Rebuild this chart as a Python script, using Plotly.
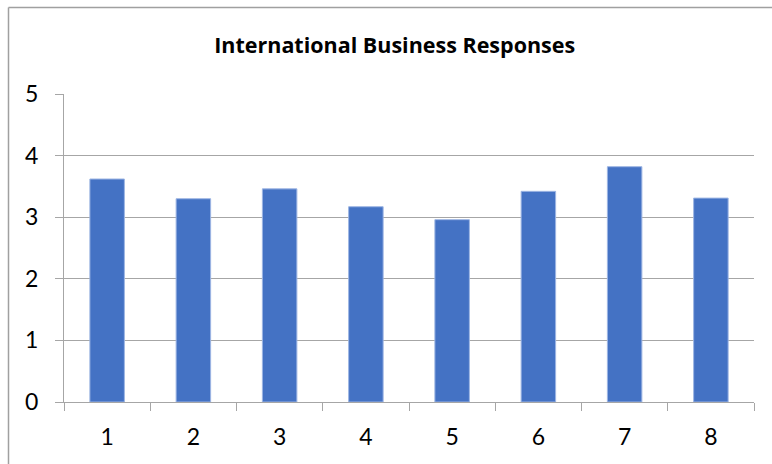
import plotly.graph_objects as go

# Survey response averages per question
categories = ["1", "2", "3", "4", "5", "6", "7", "8"]
responses = [3.62, 3.30, 3.46, 3.17, 2.96, 3.42, 3.82, 3.31]
y_ticks = [0, 1, 2, 3, 4, 5]

W, H = 772, 464
ML, MR, MT, MB = 64, 18, 94, 62
pw, ph = W - ML - MR, H - MT - MB

fig = go.Figure(
    go.Bar(
        x=categories,
        y=responses,
        width=0.4,
        marker=dict(color="#4472C4", line=dict(color="#9DB5E3", width=1)),
    )
)

# Outer chart frame (top and left edges visible)
bx0 = (8.5 - ML) / pw
by0 = 1 + (MT - 7.5) / ph
fig.add_shape(type="line", xref="paper", yref="paper",
              x0=bx0, x1=1.2, y0=by0, y1=by0,
              line=dict(color="#A0A0A0", width=1.5))
fig.add_shape(type="line", xref="paper", yref="paper",
              x0=bx0, x1=bx0, y0=by0, y1=-0.3,
              line=dict(color="#A0A0A0", width=1.5))

fig.update_layout(
    width=W, height=H,
    margin=dict(l=ML, r=MR, t=MT, b=MB),
    paper_bgcolor="white", plot_bgcolor="white",
    showlegend=False,
    font=dict(family="Lato, Open Sans, sans-serif", color="#000000"),
    title=dict(
        text="<b>International Business Responses</b>",
        x=394.7 / W, xref="container", xanchor="center",
        y=1 - 45 / H, yref="container", yanchor="middle",
        font=dict(size=21.5, family="Open Sans, sans-serif", color="#000000"),
    ),
    bargap=0.6,
)

fig.update_xaxes(
    type="category",
    tickson="boundaries",
    ticks="outside", ticklen=8, tickcolor="#A6A6A6", tickwidth=1,
    showline=True, linecolor="#A6A6A6", linewidth=1,
    showgrid=False,
    tickfont=dict(size=23, color="#000000"),
    ticklabelstandoff=14,
    range=[-0.5, 7.5],
)
fig.update_yaxes(
    range=[0, 5],
    tickvals=y_ticks,
    ticks="outside", ticklen=8, tickcolor="#A6A6A6", tickwidth=1,
    showline=True, linecolor="#A6A6A6", linewidth=1,
    showgrid=True, gridcolor="#A6A6A6", gridwidth=1,
    zeroline=False,
    tickfont=dict(size=23, color="#000000"),
    ticklabelstandoff=12,
)

fig.write_html("out.html")
